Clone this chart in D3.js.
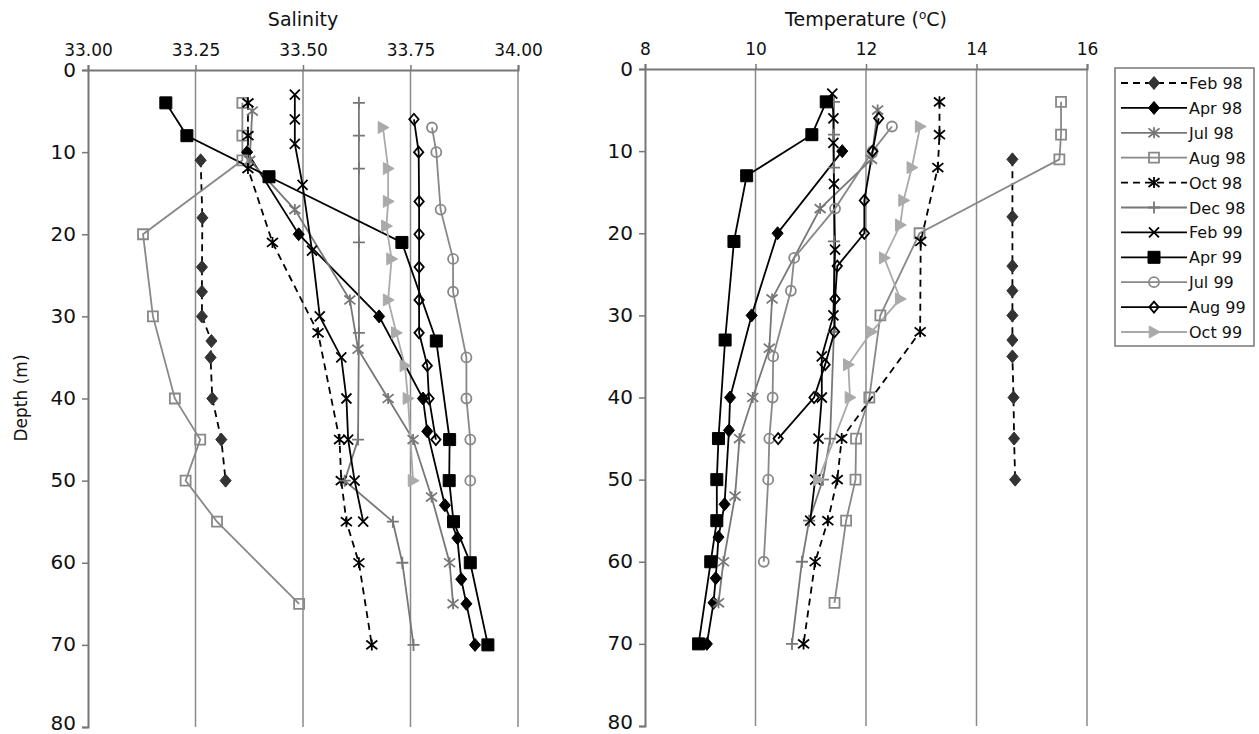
<!DOCTYPE html>
<html>
<head>
<meta charset="utf-8">
<script src="https://cdn.jsdelivr.net/npm/d3@7"></script>
<style>
  body { margin: 0; background: #fff; }
  text { font-family: "DejaVu Sans", Verdana, sans-serif; fill: #111; }
</style>
</head>
<body>
<svg id="chart" width="1259" height="734"></svg>
<script>
// series names (legend order)
const seriesNames = ["Feb 98", "Apr 98", "Jul 98", "Aug 98", "Oct 98", "Dec 98", "Feb 99", "Apr 99", "Jul 99", "Aug 99", "Oct 99"];

// depth (m), salinity, temperature (C) per cruise
const feb98Depth = [11, 18, 24, 27, 30, 33, 35, 40, 45, 50];
const feb98Sal   = [33.262, 33.266, 33.265, 33.265, 33.265, 33.287, 33.285, 33.289, 33.31, 33.32];
const feb98Temp  = [14.65, 14.65, 14.65, 14.65, 14.65, 14.65, 14.65, 14.67, 14.68, 14.7];

const apr98Depth = [10, 20, 30, 40, 44, 53, 57, 62, 65, 70];
const apr98Sal   = [33.37, 33.49, 33.677, 33.779, 33.789, 33.83, 33.859, 33.868, 33.88, 33.9];
const apr98Temp  = [11.57, 10.4, 9.93, 9.54, 9.52, 9.44, 9.33, 9.28, 9.24, 9.12];

const jul98Depth = [5, 11, 17, 28, 34, 40, 45, 52, 60, 65];
const jul98Sal   = [33.382, 33.376, 33.481, 33.609, 33.628, 33.698, 33.756, 33.799, 33.841, 33.849];
const jul98Temp  = [12.21, 12.1, 11.17, 10.3, 10.25, 9.95, 9.71, 9.63, 9.42, 9.33];

const aug98Depth = [4, 8, 11, 20, 30, 40, 45, 50, 55, 65];
const aug98Sal   = [33.359, 33.359, 33.359, 33.128, 33.151, 33.202, 33.261, 33.227, 33.3, 33.491];
const aug98Temp  = [15.53, 15.53, 15.5, 12.97, 12.26, 12.06, 11.82, 11.81, 11.64, 11.43];

const oct98Depth = [4, 8, 12, 21, 32, 45, 50, 55, 60, 70];
const oct98Sal   = [33.372, 33.372, 33.372, 33.429, 33.535, 33.585, 33.589, 33.601, 33.63, 33.66];
const oct98Temp  = [13.33, 13.33, 13.3, 12.99, 12.98, 11.56, 11.48, 11.31, 11.08, 10.87];

const dec98Depth = [4, 8, 12, 21, 32, 45, 50, 55, 60, 70];
const dec98Sal   = [33.63, 33.63, 33.63, 33.63, 33.63, 33.628, 33.597, 33.709, 33.731, 33.757];
const dec98Temp  = [11.42, 11.42, 11.42, 11.42, 11.42, 11.35, 11.22, 10.97, 10.84, 10.66];

const feb99Depth = [3, 6, 9, 14, 22, 30, 35, 40, 45, 50, 55];
const feb99Sal   = [33.481, 33.481, 33.481, 33.499, 33.521, 33.539, 33.589, 33.601, 33.605, 33.62, 33.64];
const feb99Temp  = [11.39, 11.41, 11.41, 11.42, 11.44, 11.41, 11.2, 11.2, 11.14, 11.08, 10.99];

const apr99Depth = [4, 8, 13, 21, 33, 45, 50, 55, 60, 70];
const apr99Sal   = [33.181, 33.23, 33.421, 33.73, 33.81, 33.841, 33.84, 33.85, 33.889, 33.93];
const apr99Temp  = [11.28, 11.02, 9.84, 9.61, 9.45, 9.33, 9.3, 9.3, 9.19, 8.97];

const jul99Depth = [7, 10, 17, 23, 27, 35, 40, 45, 50, 60];
const jul99Sal   = [33.8, 33.81, 33.82, 33.849, 33.849, 33.88, 33.88, 33.889, 33.889, 33.889];
const jul99Temp  = [12.47, 12.12, 11.44, 10.7, 10.64, 10.32, 10.31, 10.25, 10.23, 10.15];

const aug99Depth = [6, 10, 16, 20, 24, 28, 32, 36, 40, 45];
const aug99Sal   = [33.758, 33.769, 33.77, 33.77, 33.77, 33.77, 33.77, 33.789, 33.793, 33.809];
const aug99Temp  = [12.23, 12.12, 11.97, 11.97, 11.48, 11.44, 11.43, 11.26, 11.06, 10.41];

const oct99Depth = [7, 12, 16, 19, 23, 28, 32, 36, 40, 50];
const oct99Sal   = [33.686, 33.698, 33.698, 33.694, 33.706, 33.698, 33.717, 33.737, 33.744, 33.756];
const oct99Temp  = [12.98, 12.83, 12.68, 12.62, 12.33, 12.62, 12.1, 11.68, 11.71, 11.14];

// axis ticks
const salTicks   = [33.0, 33.25, 33.5, 33.75, 34.0];
const tempTicks  = [8, 10, 12, 14, 16];
const depthTicks = [0, 10, 20, 30, 40, 50, 60, 70, 80];

const depths = [feb98Depth, apr98Depth, jul98Depth, aug98Depth, oct98Depth, dec98Depth, feb99Depth, apr99Depth, jul99Depth, aug99Depth, oct99Depth];
const sals   = [feb98Sal, apr98Sal, jul98Sal, aug98Sal, oct98Sal, dec98Sal, feb99Sal, apr99Sal, jul99Sal, aug99Sal, oct99Sal];
const temps  = [feb98Temp, apr98Temp, jul98Temp, aug98Temp, oct98Temp, dec98Temp, feb99Temp, apr99Temp, jul99Temp, aug99Temp, oct99Temp];

// look of each series
const styles = [
  { line: "#000", dash: "7,5", mark: "diamond", fill: "#333", stroke: "#333", size: 13 },
  { line: "#000", dash: null,  mark: "diamond", fill: "#000", stroke: "#000", size: 13 },
  { line: "#777", dash: null,  mark: "asterisk", fill: "none", stroke: "#777", size: 11 },
  { line: "#888", dash: null,  mark: "square", fill: "none", stroke: "#888", size: 10 },
  { line: "#000", dash: "7,5", mark: "asterisk", fill: "none", stroke: "#000", size: 11 },
  { line: "#777", dash: null,  mark: "plus", fill: "none", stroke: "#777", size: 12 },
  { line: "#000", dash: null,  mark: "x", fill: "none", stroke: "#000", size: 10 },
  { line: "#000", dash: null,  mark: "square", fill: "#000", stroke: "#000", size: 12 },
  { line: "#888", dash: null,  mark: "circle", fill: "none", stroke: "#888", size: 10 },
  { line: "#000", dash: null,  mark: "diamond", fill: "none", stroke: "#000", size: 11 },
  { line: "#aaa", dash: null,  mark: "tri", fill: "#aaa", stroke: "#aaa", size: 12 }
];
// marker stacking (filled squares end up on top)
const markOrder = [0, 1, 2, 3, 4, 5, 6, 8, 9, 10, 7];

function markPath(type, s) {
  const h = s / 2;
  switch (type) {
    case "diamond": return `M0,${-h}L${h * 0.85},0L0,${h}L${-h * 0.85},0Z`;
    case "square": return `M${-h},${-h}H${h}V${h}H${-h}Z`;
    case "circle": return `M${h},0A${h},${h} 0 1,1 ${-h},0A${h},${h} 0 1,1 ${h},0Z`;
    case "x": return `M${-h},${-h}L${h},${h}M${-h},${h}L${h},${-h}`;
    case "asterisk": return `M${-h},${-h * 0.8}L${h},${h * 0.8}M${-h},${h * 0.8}L${h},${-h * 0.8}M0,${-h}V${h}`;
    case "plus": return `M${-h},0H${h}M0,${-h}V${h}`;
    case "tri": return `M${-h * 0.8},${-h}L${h},0L${-h * 0.8},${h}Z`;
  }
}

const svg = d3.select("#chart");

function panel(opts) {
  const x = d3.scaleLinear().domain(opts.domain).range([opts.left, opts.right]);
  const y = d3.scaleLinear().domain([0, 80]).range([opts.top, opts.bottom]);
  const g = svg.append("g");

  // vertical grid lines
  g.selectAll("line.grid").data(opts.ticks.slice(1)).enter().append("line")
    .attr("x1", d => x(d)).attr("x2", d => x(d))
    .attr("y1", opts.top).attr("y2", opts.bottom)
    .attr("stroke", "#8a8a8a").attr("stroke-width", 1.5);

  const top = g.append("g").attr("transform", `translate(0,${opts.top})`)
    .call(d3.axisTop(x).tickValues(opts.ticks).tickSize(5).tickPadding(9).tickFormat(opts.fmt));
  const left = g.append("g").attr("transform", `translate(${opts.left},0)`)
    .call(d3.axisLeft(y).tickValues(depthTicks).tickSize(6).tickPadding(6).tickFormat(d3.format("d")));
  [top, left].forEach(a => {
    a.select(".domain").attr("stroke", "#777").attr("stroke-width", 2);
    a.selectAll(".tick line").attr("stroke", "#777").attr("stroke-width", 1.5);
    a.selectAll(".tick text").attr("fill", "#111");
  });
  top.selectAll(".tick text").attr("font-size", 17)
    .attr("font-family", "DejaVu Sans, Verdana, sans-serif");
  left.selectAll(".tick text").attr("font-size", 20)
    .attr("dy", d => d === 80 ? "0.12em" : "0.3em")
    .attr("font-family", "Liberation Sans, Arial, sans-serif");

  const line = d3.line().x(d => x(d.v)).y(d => y(d.depth));
  const pointsOf = i => depths[i].map((dp, j) => ({ depth: dp, v: opts.values[i][j] }));
  seriesNames.forEach((name, i) => {
    const st = styles[i];
    g.append("path").datum(pointsOf(i))
      .attr("d", line).attr("fill", "none")
      .attr("stroke", st.line).attr("stroke-width", 1.8)
      .attr("stroke-dasharray", st.dash);
  });
  markOrder.forEach(i => {
    const st = styles[i];
    g.selectAll(null).data(pointsOf(i)).enter().append("path")
      .attr("transform", d => `translate(${x(d.v)},${y(d.depth)})`)
      .attr("d", markPath(st.mark, st.size))
      .attr("fill", st.fill).attr("stroke", st.stroke)
      .attr("stroke-width", st.fill === "none" ? 1.8 : 1);
  });

  const title = g.append("text")
    .attr("x", (opts.left + opts.right) / 2).attr("y", 26)
    .attr("text-anchor", "middle").attr("font-size", 19);
  opts.title(title);
}

panel({
  domain: [33.0, 34.0], ticks: salTicks, fmt: d3.format(".2f"),
  left: 88, right: 518, top: 70, bottom: 727, values: sals,
  title: t => t.text("Salinity")
});

panel({
  domain: [8, 16], ticks: tempTicks, fmt: d3.format("d"),
  left: 645, right: 1087, top: 69, bottom: 726, values: temps,
  title: t => {
    t.append("tspan").text("Temperature (");
    t.append("tspan").text("o").attr("font-size", 12).attr("dy", -7);
    t.append("tspan").text("C)").attr("dy", 7);
  }
});

svg.append("text")
  .attr("transform", "translate(27,398) rotate(-90)")
  .attr("text-anchor", "middle").attr("font-size", 17)
  .text("Depth (m)");

// legend
const lg = svg.append("g");
lg.append("rect").attr("x", 1115).attr("y", 68).attr("width", 139).attr("height", 278)
  .attr("fill", "#fff").attr("stroke", "#777").attr("stroke-width", 1.5);
seriesNames.forEach((name, i) => {
  const st = styles[i];
  const yy = 83 + i * 24.9;
  lg.append("line").attr("x1", 1121).attr("x2", 1187).attr("y1", yy).attr("y2", yy)
    .attr("stroke", st.line).attr("stroke-width", 1.8).attr("stroke-dasharray", st.dash);
  lg.append("path").attr("transform", `translate(1154,${yy})`)
    .attr("d", markPath(st.mark, st.size))
    .attr("fill", st.fill).attr("stroke", st.stroke)
    .attr("stroke-width", st.fill === "none" ? 1.8 : 1);
  lg.append("text").attr("x", 1189).attr("y", yy + 6).attr("font-size", 16).text(name);
});
</script>
</body>
</html>
